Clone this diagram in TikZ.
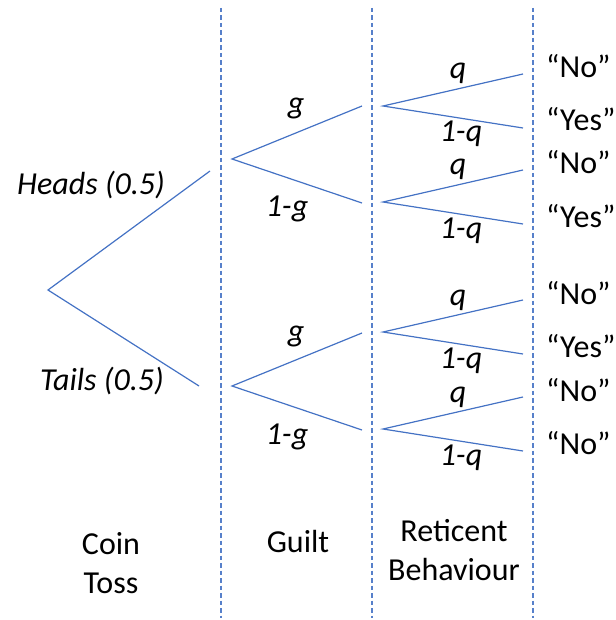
\documentclass[tikz,border=0pt]{standalone}
\usepackage{fontspec}
\setmainfont{Carlito}
\definecolor{treeblue}{RGB}{68,114,196}

\begin{document}
\begin{tikzpicture}[x=1pt,y=-1pt,
    branch/.style={draw=treeblue,line width=1.2pt},
    divider/.style={draw=treeblue!90,line width=1.2pt,dash pattern=on 4.5pt off 3pt},
    every node/.style={inner sep=0pt,font=\fontsize{32}{39}\selectfont},
    prob/.style={anchor=base,font=\fontsize{32}{39}\selectfont\itshape},
    answer/.style={anchor=base west},
    heading/.style={anchor=base,align=center}]
  \useasboundingbox (0,0) rectangle (615,620);
  % dashed columns
  \foreach \x in {221,372,533}
    \draw[divider] (\x,8) -- (\x,618);
  % coin toss
  \coordinate (root) at (48,290);
  \coordinate (heads) at (210,171);
  \coordinate (tails) at (199,386);
  \draw[branch] (heads) -- (root) -- (tails);
  \node[prob,anchor=base west] (headslab) at (17,195) {Heads (0.5)};
  \node[prob,anchor=base west] (tailslab) at (40,390) {Tails (0.5)};
  % guilt
  \foreach \n/\y in {h/159,t/386} {
    \coordinate (\n) at (232,\y);
    \coordinate (\n-g) at (362,\y-53);
    \coordinate (\n-ng) at (362,\y+44);
    \draw[branch] (\n-g) -- (\n) -- (\n-ng);
    \node[prob] (\n-glab) at (296,\y-45) {g};
    \node[prob] (\n-nglab) at (287,\y+58) {1-g};
  }
  % reticent behaviour
  \foreach \n/\y/\a/\b in {hg/106/No/Yes,hn/202/No/Yes,tg/332/No/Yes,tn/429/No/No} {
    \coordinate (\n) at (383,\y);
    \coordinate (\n-q) at (523,\y-32);
    \coordinate (\n-nq) at (523,\y+22);
    \draw[branch] (\n-q) -- (\n) -- (\n-nq);
    \node[prob] (\n-qlab) at (458,\y-27) {q};
    \node[prob] (\n-nqlab) at (461,\y+36) {1-q};
    \node[answer] (\n-a) at (546,\y-28) {“\a”};
    \node[answer] (\n-b) at (546,\y+25) {“\b”};
  }
  % column titles
  \node[heading] (coin) at (111,593) {Coin\\Toss};
  \node[heading] (guilt) at (298,552) {Guilt};
  \node[heading] (reticent) at (454,580) {Reticent\\Behaviour};
\end{tikzpicture}
\end{document}
